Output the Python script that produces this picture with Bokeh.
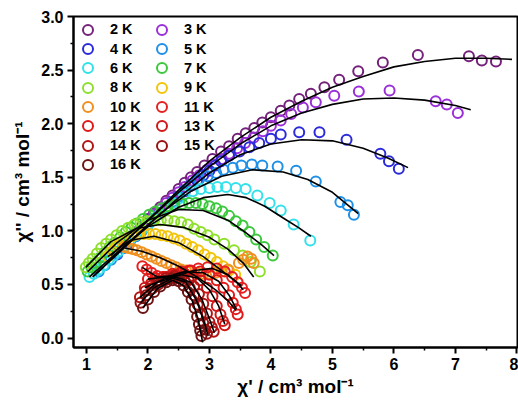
from bokeh.plotting import figure
from bokeh.models import Legend, LegendItem, FixedTicker, PrintfTickFormatter, Range1d
from bokeh.embed import file_html
from bokeh.resources import INLINE

labels = ["2 K", "3 K", "4 K", "5 K", "6 K", "7 K", "8 K", "9 K",
          "10 K", "11 K", "12 K", "13 K", "14 K", "15 K", "16 K"]
colors = ["#74227A", "#9B30D9", "#2B2BDB", "#1E90E8", "#33E1EA", "#3CC83C", "#8EE02C", "#F2C40C",
          "#F0901E", "#E62020", "#E01A1A", "#D01818", "#B41414", "#981212", "#6E1414"]

x_2K = [2.00,2.10,2.20,2.30,2.40,2.50,2.60,2.70,2.80,2.92,3.05,3.19,3.32,3.46,3.59,3.73,3.86,4.00,4.16,4.30,4.46,4.65,4.87,5.11,5.42,5.82,6.39,7.22,7.43,7.66]
y_2K = [1.11,1.17,1.22,1.28,1.33,1.39,1.45,1.50,1.55,1.61,1.67,1.74,1.79,1.86,1.91,1.96,2.01,2.06,2.12,2.17,2.23,2.28,2.34,2.41,2.49,2.57,2.64,2.63,2.59,2.58]
fx_2K = [1.70,2.00,2.50,3.00,3.50,4.00,4.50,5.00,5.50,6.00,6.50,7.00,7.50,7.92]
fy_2K = [0.94,1.10,1.38,1.65,1.87,2.06,2.21,2.34,2.44,2.53,2.58,2.61,2.61,2.60]

x_3K = [1.80,1.90,2.00,2.10,2.20,2.30,2.40,2.50,2.60,2.72,2.84,2.96,3.08,3.20,3.32,3.45,3.58,3.72,3.87,4.00,4.16,4.33,4.52,4.73,5.03,5.43,5.93,6.68,6.86,7.04]
y_3K = [0.99,1.04,1.09,1.15,1.20,1.26,1.31,1.36,1.41,1.47,1.52,1.57,1.62,1.67,1.72,1.77,1.82,1.87,1.93,1.98,2.03,2.09,2.15,2.20,2.26,2.30,2.31,2.21,2.18,2.10]
fx_3K = [1.40,1.80,2.50,3.00,3.50,4.00,4.50,5.00,5.50,6.00,6.50,7.00,7.25]
fy_3K = [0.77,0.99,1.36,1.60,1.81,1.98,2.10,2.18,2.23,2.24,2.22,2.17,2.13]

x_4K = [1.50,1.60,1.70,1.80,1.90,2.00,2.10,2.20,2.30,2.40,2.50,2.60,2.70,2.80,2.90,3.00,3.10,3.19,3.32,3.49,3.65,3.81,4.00,4.16,4.46,4.79,5.23,5.78,5.92,6.08]
y_4K = [0.78,0.84,0.89,0.95,1.00,1.06,1.11,1.17,1.22,1.27,1.32,1.37,1.42,1.47,1.52,1.56,1.61,1.65,1.70,1.74,1.78,1.82,1.86,1.90,1.92,1.92,1.85,1.72,1.65,1.58]
fx_4K = [1.15,1.50,2.00,2.50,3.00,3.50,4.00,4.50,5.00,5.50,5.90,6.23]
fy_4K = [0.60,0.78,1.05,1.31,1.54,1.71,1.81,1.85,1.84,1.77,1.68,1.59]

x_5K = [1.20,1.30,1.40,1.50,1.60,1.70,1.80,1.90,2.00,2.10,2.20,2.30,2.40,2.50,2.60,2.70,2.83,2.97,3.11,3.23,3.38,3.52,3.69,3.86,4.11,4.41,4.73,5.13,5.25,5.35]
y_5K = [0.62,0.68,0.73,0.79,0.84,0.90,0.95,1.00,1.06,1.11,1.16,1.22,1.27,1.32,1.38,1.43,1.48,1.51,1.54,1.57,1.59,1.61,1.62,1.61,1.60,1.56,1.46,1.27,1.24,1.15]
fx_5K = [1.10,1.20,1.70,2.20,2.70,3.20,3.70,4.20,4.60,5.00,5.42]
fy_5K = [0.57,0.62,0.90,1.16,1.37,1.51,1.57,1.55,1.48,1.36,1.16]

x_6K = [1.05,1.12,1.20,1.28,1.36,1.44,1.52,1.60,1.70,1.80,1.90,2.00,2.10,2.20,2.30,2.40,2.50,2.59,2.73,2.86,3.00,3.13,3.27,3.43,3.59,3.78,3.98,4.16,4.37,4.64]
y_6K = [0.57,0.60,0.64,0.68,0.73,0.77,0.81,0.86,0.91,0.96,1.01,1.06,1.11,1.16,1.21,1.26,1.30,1.34,1.37,1.39,1.40,1.41,1.41,1.40,1.39,1.33,1.26,1.19,1.06,0.91]
fx_6K = [1.05,1.50,2.00,2.50,2.90,3.30,3.60,3.90,4.20,4.45,4.65]
fy_6K = [0.57,0.80,1.04,1.22,1.31,1.34,1.31,1.23,1.12,1.03,0.95]

x_7K = [1.02,1.08,1.15,1.22,1.30,1.38,1.46,1.55,1.64,1.73,1.82,1.92,2.02,2.12,2.22,2.32,2.43,2.56,2.67,2.78,2.89,3.00,3.11,3.21,3.32,3.43,3.54,3.65,3.76,3.89,4.03]
y_7K = [0.62,0.66,0.70,0.75,0.80,0.85,0.89,0.94,0.99,1.03,1.07,1.11,1.15,1.18,1.21,1.23,1.24,1.25,1.26,1.26,1.25,1.23,1.21,1.18,1.14,1.09,1.05,0.99,0.92,0.85,0.77]
fx_7K = [1.02,1.50,2.00,2.50,2.90,3.30,3.60,3.85,4.05]
fy_7K = [0.62,0.89,1.10,1.20,1.19,1.10,0.98,0.87,0.77]

x_8K = [0.99,1.04,1.10,1.17,1.24,1.32,1.40,1.49,1.58,1.68,1.78,1.88,1.99,2.10,2.21,2.32,2.43,2.54,2.65,2.75,2.86,2.97,3.08,3.24,3.40,3.54,3.67,3.82]
y_8K = [0.66,0.70,0.74,0.79,0.84,0.88,0.92,0.96,1.00,1.03,1.06,1.08,1.09,1.10,1.10,1.10,1.09,1.08,1.06,1.02,0.99,0.96,0.92,0.88,0.82,0.77,0.71,0.62]
fx_8K = [0.99,1.40,1.80,2.20,2.60,3.00,3.30,3.55,3.72]
fy_8K = [0.66,0.90,1.02,1.06,1.03,0.94,0.83,0.70,0.57]

x_9K = [1.35,1.42,1.50,1.58,1.66,1.75,1.84,1.93,2.02,2.12,2.22,2.32,2.42,2.52,2.62,2.72,2.82,2.92,3.02,3.12,3.22,3.32,3.42]
y_9K = [0.76,0.81,0.86,0.90,0.93,0.95,0.97,0.97,0.97,0.97,0.96,0.95,0.93,0.91,0.88,0.85,0.82,0.78,0.75,0.71,0.67,0.63,0.59]
fx_9K = [1.35,1.70,2.10,2.50,2.90,3.20,3.52]
fy_9K = [0.76,0.91,0.95,0.89,0.76,0.63,0.49]

x_10K = [1.62,1.68,1.75,1.82,1.90,1.98,2.06,2.14,2.22,2.30,2.38,2.46,2.54,2.62,2.70,2.80,2.90,3.00,3.10,3.20,3.30,3.48,3.55,3.62,3.68,3.72]
y_10K = [0.85,0.84,0.83,0.82,0.80,0.78,0.76,0.74,0.72,0.70,0.68,0.66,0.64,0.63,0.62,0.61,0.60,0.60,0.61,0.62,0.64,0.70,0.73,0.76,0.74,0.70]
fx_10K = [1.62,1.90,2.20,2.50,2.80,3.10,3.30,3.43]
fy_10K = [0.84,0.81,0.75,0.67,0.57,0.45,0.35,0.26]

x_11K = [1.91,1.98,2.06,2.15,2.25,2.38,2.52,2.67,2.82,2.97,3.12,3.25,3.37,3.46,3.53,3.58]
y_11K = [0.67,0.64,0.61,0.58,0.57,0.58,0.60,0.63,0.65,0.66,0.65,0.62,0.57,0.52,0.47,0.42]
fx_11K = [1.91,2.15,2.45,2.75,3.05,3.30,3.46,3.55]
fy_11K = [0.66,0.57,0.58,0.63,0.65,0.59,0.51,0.45]

x_12K = [2.00,2.12,2.25,2.40,2.55,2.70,2.85,3.00,3.12,3.23,3.32,3.38,3.43,3.46]
y_12K = [0.55,0.56,0.57,0.60,0.62,0.63,0.62,0.59,0.54,0.47,0.40,0.33,0.27,0.22]
fx_12K = [2.00,2.30,2.60,2.90,3.15,3.32,3.44]
fy_12K = [0.55,0.57,0.62,0.61,0.53,0.40,0.27]

x_13K = [1.95,2.05,2.17,2.30,2.45,2.60,2.73,2.85,2.96,3.05,3.12,3.18,3.22,3.25]
y_13K = [0.47,0.51,0.54,0.57,0.59,0.60,0.58,0.54,0.47,0.39,0.30,0.22,0.16,0.12]
fx_13K = [1.95,2.25,2.55,2.80,3.00,3.15,3.25]
fy_13K = [0.47,0.55,0.59,0.56,0.45,0.30,0.13]

x_14K = [1.87,1.96,2.06,2.17,2.30,2.43,2.55,2.66,2.75,2.83,2.90,2.96,3.00,3.04,3.07]
y_14K = [0.38,0.44,0.49,0.53,0.56,0.58,0.57,0.54,0.48,0.41,0.32,0.23,0.15,0.10,0.06]
fx_14K = [1.87,2.15,2.45,2.70,2.88,3.00,3.08]
fy_14K = [0.38,0.52,0.57,0.52,0.36,0.18,0.05]

x_15K = [1.88,1.97,2.07,2.17,2.28,2.40,2.50,2.60,2.68,2.75,2.81,2.86,2.90,2.93,2.96]
y_15K = [0.33,0.40,0.46,0.50,0.54,0.56,0.56,0.53,0.47,0.40,0.31,0.22,0.14,0.08,0.04]
fx_15K = [1.88,2.10,2.40,2.62,2.80,2.92,2.98]
fy_15K = [0.33,0.47,0.56,0.52,0.34,0.14,0.02]

x_16K = [1.92,2.00,2.10,2.20,2.30,2.40,2.50,2.58,2.65,2.71,2.76,2.80,2.83,2.85,2.87]
y_16K = [0.28,0.36,0.43,0.48,0.52,0.54,0.53,0.49,0.43,0.36,0.28,0.20,0.13,0.07,0.02]
fx_16K = [1.92,2.15,2.40,2.58,2.72,2.82,2.89]
fy_16K = [0.28,0.46,0.54,0.49,0.35,0.17,-0.04]

x_ticks = [1, 2, 3, 4, 5, 6, 7, 8]
y_ticks = [0.0, 0.5, 1.0, 1.5, 2.0, 2.5, 3.0]

data_x = [x_2K, x_3K, x_4K, x_5K, x_6K, x_7K, x_8K, x_9K, x_10K, x_11K, x_12K, x_13K, x_14K, x_15K, x_16K]
data_y = [y_2K, y_3K, y_4K, y_5K, y_6K, y_7K, y_8K, y_9K, y_10K, y_11K, y_12K, y_13K, y_14K, y_15K, y_16K]
fit_x = [fx_2K, fx_3K, fx_4K, fx_5K, fx_6K, fx_7K, fx_8K, fx_9K, fx_10K, fx_11K, fx_12K, fx_13K, fx_14K, fx_15K, fx_16K]
fit_y = [fy_2K, fy_3K, fy_4K, fy_5K, fy_6K, fy_7K, fy_8K, fy_9K, fy_10K, fy_11K, fy_12K, fy_13K, fy_14K, fy_15K, fy_16K]

FONT = "Liberation Sans"
W, H = 518, 402
BL, BR, BT, BB = 73, 1, 16, 55
FRAME_H = H - BT - BB

p = figure(width=W, height=H, output_backend="svg", toolbar_location=None,
           x_range=Range1d(0.79, 8.01), y_range=Range1d(-0.088, 3.0),
           min_border_left=BL, min_border_right=BR, min_border_top=BT, min_border_bottom=BB)
p.grid.visible = False
p.background_fill_color = "white"
p.border_fill_color = "white"
p.outline_line_color = "black"
p.outline_line_width = 2

renderers = []
for xs, ys, c in zip(data_x, data_y, colors):
    r = p.scatter(xs, ys, marker="circle", size=10, fill_color=None, line_color=c, line_width=2)
    renderers.append(r)
for fx, fy in zip(fit_x, fit_y):
    p.line(fx, fy, line_color="black", line_width=1.6)

for ax in (p.xaxis[0], p.yaxis[0]):
    ax.axis_line_width = 2
    ax.major_tick_line_width = 2
    ax.minor_tick_line_width = 1.5
    ax.major_tick_out = 6
    ax.major_tick_in = 0
    ax.minor_tick_out = 3
    ax.minor_tick_in = 0
    ax.major_label_text_font = FONT
    ax.major_label_text_font_style = "bold"
    ax.major_label_text_font_size = "16px"
    ax.major_label_text_color = "black"
    ax.axis_label_text_font = FONT
    ax.axis_label_text_font_style = "bold"
    ax.axis_label_text_font_size = "19px"
    ax.axis_label_text_color = "black"

p.xaxis.ticker = FixedTicker(ticks=x_ticks, minor_ticks=[v + 0.5 for v in x_ticks[:-1]])
p.yaxis.ticker = FixedTicker(ticks=y_ticks, minor_ticks=[v + 0.25 for v in y_ticks[:-1]])
p.yaxis.formatter = PrintfTickFormatter(format="%.1f")
p.xaxis.major_label_standoff = 4
p.yaxis.major_label_standoff = 4
p.xaxis.axis_label = "χ' / cm³ mol⁻¹"
p.yaxis.axis_label = "χ'' / cm³ mol⁻¹"
p.xaxis.axis_label_standoff = 3
p.yaxis.axis_label_standoff = 5

# legend layout: two columns, one single-item legend per row
GLYPH = 25
PITCH = 19.3
FIRST_ROW = 13.3          # px below frame top (centre of first row)
COL_X = [2, 76]           # px from frame left (legend box left edge)

def add_entry(i, col, row):
    lg = Legend(items=[LegendItem(label=labels[i], renderers=[renderers[i]])],
                location=(COL_X[col], FRAME_H - (FIRST_ROW + PITCH * row) - GLYPH / 2),
                padding=0, margin=0, glyph_width=GLYPH, glyph_height=GLYPH, label_height=GLYPH,
                label_standoff=10, border_line_color=None, background_fill_alpha=0,
                label_text_font=FONT, label_text_font_style="bold",
                label_text_font_size="14.5px", label_text_color="black")
    p.add_layout(lg, "center")

for k in range(len(labels)):
    add_entry(k, k % 2, k // 2)

open("out.html", "w").write(file_html(p, INLINE))
